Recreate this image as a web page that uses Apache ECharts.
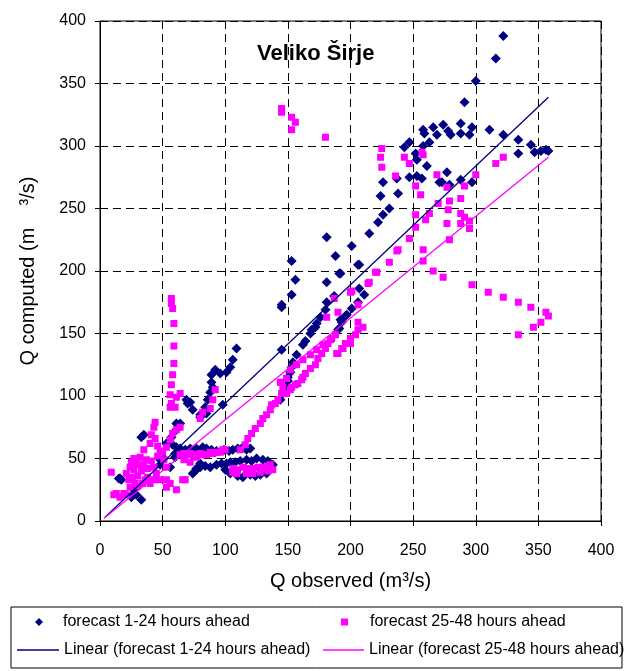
<!DOCTYPE html>
<html>
<head>
<meta charset="utf-8">
<script src="https://cdn.jsdelivr.net/npm/echarts@6/dist/echarts.min.js"></script>
<style>
  html, body { margin: 0; padding: 0; background: #fff; }
  #chart { width: 630px; height: 671px; }
</style>
</head>
<body>
<div id="chart"></div>
<script>
// tick values on both axes
const ticks = [0, 50, 100, 150, 200, 250, 300, 350, 400]

// forecast 1-24 hours ahead: [Q observed, Q computed]
const fc1 = [
  [322, 388], [316, 370], [300, 352], [291, 335],
  [274, 317], [278, 312], [280, 309], [288, 318], [288, 310], [295, 309], [297, 315], [311, 313], [322, 309], [334, 305], [334, 294], [344, 301], [347, 295], [352, 296], [356, 297], [358, 296],
  [258, 313], [259, 310], [266, 315], [269, 309],
  [263, 303], [258, 300], [247, 303], [243, 299], [253, 289], [261, 284], [252, 294],
  [247, 275], [253, 276], [257, 274], [271, 271], [277, 279], [279, 269], [288, 273], [297, 271], [273, 271],
  [237, 274], [226, 271], [238, 262], [224, 260], [231, 250], [226, 245], [222, 239], [215, 230], [201, 220], [207, 205],
  [181, 227], [153, 208], [188, 212], [156, 193], [181, 191], [191, 198], [206, 205], [153, 181], [145, 173], [145, 171],
  [187, 180], [181, 175], [180, 169], [176, 163], [173, 158], [172, 155], [169, 153], [168, 150], [164, 144], [162, 141],
  [157, 133], [154, 127], [153, 123], [152, 119], [150, 115], [150, 112], [148, 107], [145, 137],
  [207, 186], [211, 181], [206, 175], [201, 170], [196, 164], [191, 154], [197, 165], [193, 159], [190, 153], [192, 198], [192, 161],
  [146, 102], [144, 97],
  [109, 138], [106, 129], [104, 123], [101, 119], [96, 118], [92, 121], [89, 117], [89, 111], [90, 107], [88, 103], [86, 97],
  [84, 91], [80, 85], [74, 89], [72, 95], [69, 97], [70, 94], [80, 83], [85, 86], [98, 93],
  [64, 58], [68, 57], [72, 58], [77, 58], [81, 57], [85, 58], [89, 57], [93, 56], [99, 57], [103, 56], [106, 57], [110, 58], [114, 59], [117, 57], [120, 58],
  [74, 38], [77, 41], [80, 43], [84, 44], [88, 43], [93, 45], [97, 46], [101, 46], [104, 47], [108, 47], [112, 48], [117, 49], [121, 48], [125, 50],
  [130, 49], [134, 48], [136, 43], [138, 45], [133, 38], [128, 37], [124, 36], [120, 37], [114, 35], [110, 36], [104, 38], [100, 41],
  [61, 78], [64, 78], [57, 67], [58, 61], [60, 54], [61, 59], [60, 51], [56, 43], [48, 49], [48, 45], [51, 50], [53, 62], [61, 73],
  [33, 67], [35, 69], [16, 34], [15, 34], [17, 33], [25, 19], [27, 25], [29, 21], [33, 17], [77, 42], [80, 46], [77, 57], [82, 59], [85, 54]
]

// forecast 25-48 hours ahead: [Q observed, Q computed]
const fc2 = [
  [145, 330], [145, 327], [153, 323], [156, 319], [153, 313], [180, 307],
  [57, 178], [57, 174], [58, 170], [59, 158], [59, 140], [59, 126], [58, 117], [57, 109], [56, 101], [56, 91], [61, 99], [64, 102], [57, 94], [60, 91],
  [80, 82], [82, 87], [88, 90], [90, 97], [92, 105],
  [44, 79], [43, 75], [41, 69], [40, 62], [35, 57], [32, 51], [29, 46], [27, 41], [24, 43], [21, 38], [23, 33], [24, 27],
  [11, 21], [16, 19], [21, 21], [9, 39], [13, 22], [19, 22],
  [37, 49], [43, 43], [45, 38], [43, 33], [48, 33], [53, 59], [56, 65], [58, 70], [61, 73], [64, 75], [51, 49], [53, 43],
  [53, 33], [53, 27], [56, 30], [61, 25], [68, 33], [66, 33],
  [26, 35], [28, 30], [30, 36], [33, 40], [35, 45], [38, 42], [30, 28], [34, 30], [38, 35], [40, 30], [46, 52], [48, 56],
  [50, 55], [31, 45], [27, 50], [25, 47], [36, 33], [41, 48], [46, 60], [44, 66],
  [67, 54], [72, 54], [77, 51], [82, 53], [67, 49], [72, 47],
  [64, 53], [68, 53], [72, 53], [76, 53], [80, 54], [85, 53], [88, 55], [90, 54], [93, 55], [96, 55], [98, 57], [100, 57],
  [106, 42], [110, 41], [114, 43], [118, 42], [122, 42], [126, 43], [130, 43], [134, 44], [136, 45], [138, 41],
  [134, 40], [128, 39], [122, 38], [117, 38], [109, 38], [106, 39],
  [112, 57], [116, 61], [118, 66], [121, 70], [124, 74], [128, 78], [130, 82], [133, 85], [136, 89], [137, 93], [140, 94],
  [142, 97], [145, 102], [146, 107], [145, 111], [144, 111], [149, 102], [152, 105], [153, 107], [156, 109], [158, 110],
  [161, 113], [149, 114], [152, 121], [157, 125], [162, 129], [168, 133], [173, 137], [178, 141], [184, 145], [189, 134],
  [194, 138], [200, 142],
  [162, 115], [164, 118], [168, 122], [172, 125], [174, 130], [177, 134], [180, 138], [182, 142], [185, 146], [188, 149],
  [190, 134], [193, 138], [196, 142], [200, 146], [204, 149], [206, 153], [210, 155], [206, 159], [181, 163], [190, 167],
  [200, 183], [206, 173], [214, 190], [220, 199], [187, 178], [201, 184], [215, 191], [221, 199], [231, 207], [237, 216],
  [225, 298], [224, 291], [225, 283], [236, 276], [243, 291], [247, 286], [257, 295], [258, 293], [252, 268], [256, 261],
  [269, 277], [277, 267], [291, 268], [300, 277], [270, 254], [279, 256], [288, 258], [278, 249], [252, 245], [263, 246],
  [260, 241], [252, 235], [277, 238], [288, 246], [291, 243], [288, 238], [295, 240], [295, 234], [247, 226], [279, 225],
  [238, 217], [258, 217], [316, 286], [322, 291],
  [258, 208], [266, 200], [274, 195], [297, 189], [310, 183], [322, 179], [334, 175], [344, 171], [356, 167], [358, 164],
  [352, 159], [346, 155], [334, 149]
]

// linear trend lines (end points)
const trend1 = [[4, 3], [358, 339]]
const trend2 = [[3, 2], [358, 291]]

const names = [
  'forecast 1-24 hours ahead',
  'forecast 25-48 hours ahead',
  'Linear (forecast 1-24 hours ahead)',
  'Linear (forecast 25-48 hours ahead)',
]

const font = 'Liberation Sans, Arial, sans-serif'
const legendText = { color: '#000', fontSize: 16, fontFamily: font }

function axis(extra) {
  return Object.assign({
    type: 'value',
    min: ticks[0],
    max: ticks[ticks.length - 1],
    interval: ticks[1] - ticks[0],
    nameLocation: 'middle',
    nameTextStyle: { color: '#000', fontSize: 20, fontFamily: font },
    axisLine: { show: true, onZero: false, lineStyle: { color: '#000', width: 1 } },
    axisTick: { show: true, inside: false, length: 5, lineStyle: { color: '#000' } },
    axisLabel: { color: '#000', fontSize: 16, fontFamily: font },
    splitLine: { show: true, lineStyle: { color: '#000', width: 1, type: [8, 5] } },
  }, extra)
}

// one legend per entry so they sit in two fixed columns like the original box
function legendItem(name, left, top, icon, w, h, pad) {
  return {
    data: [{ name, icon }],
    left, top,
    itemWidth: w, itemHeight: h,
    selectedMode: false,
    padding: 0,
    textStyle: Object.assign({ padding: [0, 0, 0, pad] }, legendText),
  }
}

const option = {
  animation: false,
  backgroundColor: '#fff',
  title: {
    text: 'Veliko Širje',
    left: 252,
    top: 38,
    textStyle: { color: '#000', fontSize: 22, fontWeight: 'bold', fontFamily: font },
  },
  grid: {
    left: 100, right: 29, top: 21, bottom: 150,
    show: true, borderColor: '#000', borderWidth: 1,
  },
  xAxis: axis({
    name: 'Q observed (m³/s)',
    nameGap: 50,
    axisLabel: { color: '#000', fontSize: 16, fontFamily: font, margin: 22 },
  }),
  yAxis: axis({
    name: 'Q computed (m    ³/s)',
    nameGap: 62,
    axisLabel: { color: '#000', fontSize: 16, fontFamily: font, margin: 14 },
  }),
  legend: [
    legendItem(names[0], 35, 614, 'diamond', 8, 8, 15),
    legendItem(names[1], 341, 614, 'rect', 7, 7, 17),
    legendItem(names[2], 17, 642, 'rect', 42, 1.5, 0),
    legendItem(names[3], 323, 642, 'rect', 41, 1.5, 0),
  ],
  graphic: [
    {
      type: 'rect',
      shape: { x: 11, y: 607, width: 611, height: 61 },
      style: { fill: 'none', stroke: '#000', lineWidth: 1 },
      silent: true,
    },
  ],
  series: [
    {
      name: names[0],
      type: 'scatter',
      symbol: 'diamond',
      symbolSize: 10,
      itemStyle: { color: '#000080', opacity: 1 },
      data: fc1,
      z: 2,
    },
    {
      name: names[1],
      type: 'scatter',
      symbol: 'rect',
      symbolSize: 7,
      itemStyle: { color: '#ff00ff', opacity: 1 },
      data: fc2,
      z: 3,
    },
    {
      name: names[2],
      type: 'line',
      symbol: 'none',
      lineStyle: { color: '#000080', width: 1.3 },
      itemStyle: { color: '#000080' },
      data: trend1,
      z: 4,
    },
    {
      name: names[3],
      type: 'line',
      symbol: 'none',
      lineStyle: { color: '#ff00ff', width: 1.3 },
      itemStyle: { color: '#ff00ff' },
      data: trend2,
      z: 4,
    },
  ],
}

const myChart = echarts.init(document.getElementById('chart'))
myChart.setOption(option)
</script>
</body>
</html>
